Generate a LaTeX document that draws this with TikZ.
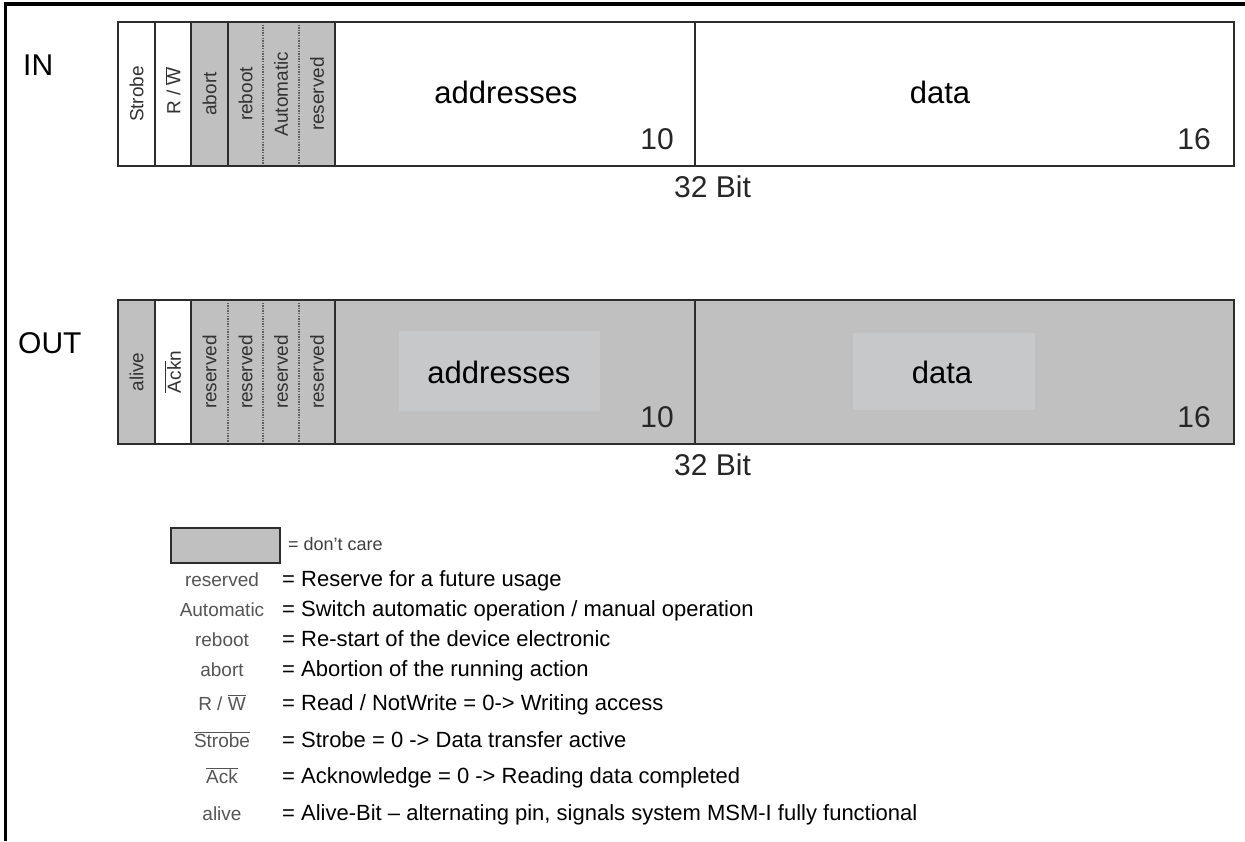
\documentclass[tikz,border=0pt]{standalone}
\usepackage{fontspec}
\setmainfont{Liberation Sans}
\definecolor{cellgray}{RGB}{192,192,192}
\definecolor{innergray}{RGB}{199,200,202}
\definecolor{linecol}{RGB}{45,45,45}
\definecolor{dotcol}{RGB}{95,95,95}
\definecolor{labgray}{RGB}{50,50,50}
\definecolor{leggray}{RGB}{85,85,85}
\begin{document}
\begin{tikzpicture}[x=1pt,y=-1pt,
  cellbase/.style={anchor=north west, inner sep=0pt, outer sep=0pt, minimum height=144pt},
  gcell/.style={cellbase, fill=cellgray},
  wcell/.style={cellbase, fill=white},
  rotlab/.style={rotate=90, font=\fontsize{19}{19}\selectfont, text=labgray, inner sep=0pt},
  biglab/.style={font=\fontsize{31}{31}\selectfont, inner sep=0pt},
  rowlab/.style={font=\fontsize{30}{30}\selectfont, inner sep=0pt, anchor=base west},
  numlab/.style={font=\fontsize{30}{30}\selectfont, inner sep=0pt, anchor=base east, text=black!85},
  bitlab/.style={font=\fontsize{30}{30}\selectfont, inner sep=0pt, anchor=base west, text=black!85},
  edgeline/.style={draw=linecol, line width=1.6pt},
  dotdiv/.style={draw=dotcol, line width=1.2pt, dash pattern=on 1.3pt off 1.3pt},
  innerbox/.style={fill=innergray, inner sep=0pt, outer sep=0pt, anchor=north west},
  legkey/.style={font=\fontsize{19}{19}\selectfont, text=leggray, inner sep=0pt, anchor=base},
  legtxt/.style={font=\fontsize{22}{22}\selectfont, inner sep=0pt, anchor=base west},
  frameline/.style={draw=black, line width=3.5pt}
]
\useasboundingbox (0,0) rectangle (1245,841);
\fill[white] (0,0) rectangle (1245,841);
% outer frame (left and top only)
\coordinate (fbl) at (5.5,841);
\coordinate (ftl) at (5.5,4);
\coordinate (ftr) at (1245,4);
\draw[frameline] (fbl) -- (ftl) -- (ftr);

% ---------------- IN row ----------------
\node[rowlab] (inlab) at (23,75) {IN};
\node[wcell, minimum width=37pt] (inS) at (118,22) {};
\node[wcell, minimum width=36pt] (inR) at (155,22) {};
\node[gcell, minimum width=37pt] (inAb) at (191,22) {};
\node[gcell, minimum width=35pt] (inRb) at (228,22) {};
\node[gcell, minimum width=36pt] (inAu) at (263,22) {};
\node[gcell, minimum width=36pt] (inRs) at (299,22) {};
\node[wcell, minimum width=360pt] (inAd) at (335,22) {};
\node[wcell, minimum width=539pt] (inD) at (695,22) {};
\draw[dotdiv] (inRb.north east) -- (inRb.south east);
\draw[dotdiv] (inAu.north east) -- (inAu.south east);
\draw[edgeline] (inS.north west) rectangle (inD.south east);
\draw[edgeline] (inS.north east) -- (inS.south east);
\draw[edgeline] (inR.north east) -- (inR.south east);
\draw[edgeline] (inAb.north east) -- (inAb.south east);
\draw[edgeline] (inRs.north east) -- (inRs.south east);
\draw[edgeline] (inAd.north east) -- (inAd.south east);
\node[rotlab] (inSl) at (inS.center) {Strobe};
\node[rotlab] (inRl) at ([yshift=3pt]inR.center) {R / $\overline{\mbox{W}}$};
\node[rotlab] (inAbl) at (inAb.center) {abort};
\node[rotlab] (inRbl) at (inRb.center) {reboot};
\node[rotlab] (inAul) at (inAu.center) {Automatic};
\node[rotlab] (inRsl) at (inRs.center) {reserved};
\node[biglab, anchor=base] (inAdl) at (506,103) {addresses};
\node[numlab] (inAdn) at (674,149) {10};
\node[biglab, anchor=base] (inDl) at (940,103) {data};
\node[numlab] (inDn) at (1211,149) {16};
\node[bitlab] (inbit) at (674,197) {32 Bit};

% ---------------- OUT row ----------------
\node[rowlab] (outlab) at (18,353) {OUT};
\node[gcell, minimum width=37pt] (oAl) at (118,300) {};
\node[wcell, minimum width=36pt] (oAk) at (155,300) {};
\node[gcell, minimum width=37pt] (oR1) at (191,300) {};
\node[gcell, minimum width=35pt] (oR2) at (228,300) {};
\node[gcell, minimum width=36pt] (oR3) at (263,300) {};
\node[gcell, minimum width=36pt] (oR4) at (299,300) {};
\node[gcell, minimum width=360pt] (oAd) at (335,300) {};
\node[gcell, minimum width=539pt] (oD) at (695,300) {};
\node[innerbox, minimum width=201pt, minimum height=80pt] (oAdIn) at (399,331) {};
\node[innerbox, minimum width=182pt, minimum height=77pt] (oDIn) at (853,333) {};
\draw[dotdiv] (oR1.north east) -- (oR1.south east);
\draw[dotdiv] (oR2.north east) -- (oR2.south east);
\draw[dotdiv] (oR3.north east) -- (oR3.south east);
\draw[edgeline] (oAl.north west) rectangle (oD.south east);
\draw[edgeline] (oAl.north east) -- (oAl.south east);
\draw[edgeline] (oAk.north east) -- (oAk.south east);
\draw[edgeline] (oR4.north east) -- (oR4.south east);
\draw[edgeline] (oAd.north east) -- (oAd.south east);
\node[rotlab] (oAll) at (oAl.center) {alive};
\node[rotlab] (oAkl) at (oAk.center) {$\overline{\mbox{Ack}}$n};
\node[rotlab] (oR1l) at (oR1.center) {reserved};
\node[rotlab] (oR2l) at (oR2.center) {reserved};
\node[rotlab] (oR3l) at (oR3.center) {reserved};
\node[rotlab] (oR4l) at (oR4.center) {reserved};
\node[biglab, anchor=base] (oAdl) at (499,383) {addresses};
\node[numlab] (oAdn) at (674,427) {10};
\node[biglab, anchor=base] (oDl) at (942,383) {data};
\node[numlab] (oDn) at (1211,427) {16};
\node[bitlab] (outbit) at (674,475) {32 Bit};

% ---------------- Legend ----------------
\node[anchor=north west, fill=cellgray, draw=linecol, line width=1.5pt, minimum width=109pt, minimum height=35pt, inner sep=0pt] (lgbox) at (170,527) {};
\node[font=\fontsize{18}{18}\selectfont, inner sep=0pt, anchor=base west, text=black!75] (lgboxt) at (288,550) {= don't care};
\node[legkey] (k1) at (222,586) {reserved};
\node[legtxt] (t1) at (282,586) {= Reserve for a future usage};
\node[legkey] (k2) at (222,616) {Automatic};
\node[legtxt] (t2) at (282,616) {= Switch automatic operation / manual operation};
\node[legkey] (k3) at (222,646) {reboot};
\node[legtxt] (t3) at (282,646) {= Re-start of the device electronic};
\node[legkey] (k4) at (222,676) {abort};
\node[legtxt] (t4) at (282,676) {= Abortion of the running action};
\node[legkey] (k5) at (222,710) {R / $\overline{\mbox{W}}$};
\node[legtxt] (t5) at (282,710) {= Read / NotWrite = 0-> Writing access};
\node[legkey] (k6) at (222,747) {$\overline{\mbox{Strobe}}$};
\node[legtxt] (t6) at (282,747) {= Strobe = 0 -> Data transfer active};
\node[legkey] (k7) at (222,783) {$\overline{\mbox{Ack}}$};
\node[legtxt] (t7) at (282,783) {= Acknowledge = 0 -> Reading data completed};
\node[legkey] (k8) at (222,820) {alive};
\node[legtxt] (t8) at (282,820) {= Alive-Bit -- alternating pin, signals system MSM-I fully functional};
\end{tikzpicture}
\end{document}
